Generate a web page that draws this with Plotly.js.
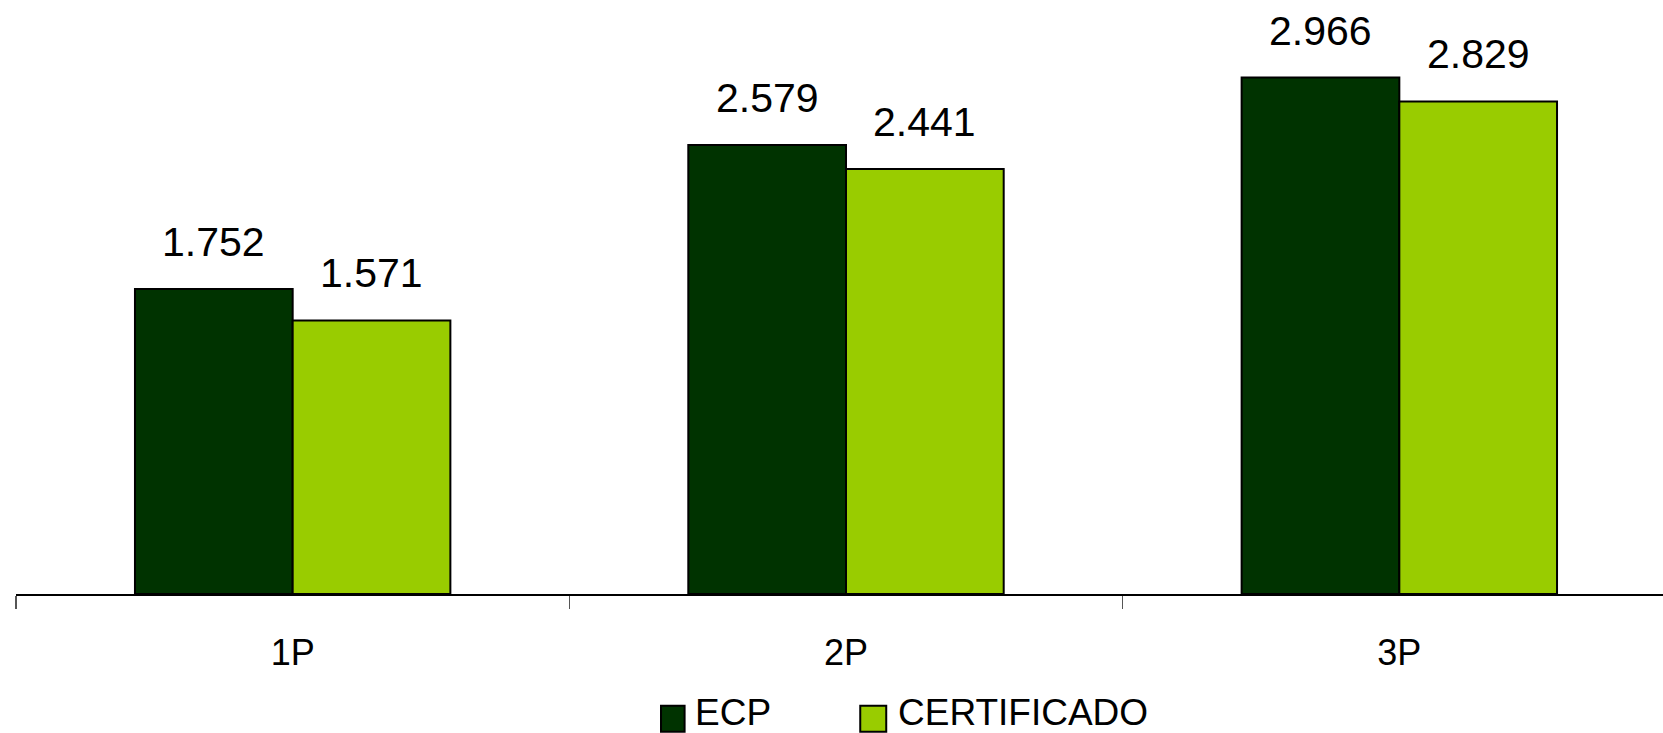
<!DOCTYPE html>
<html>
<head>
<meta charset="utf-8">
<script src="https://cdn.plot.ly/plotly-3.0.1.min.js"></script>
<style>
html,body{margin:0;padding:0;background:#fff;}
#chart{width:1663px;height:733px;}
</style>
</head>
<body>
<div id="chart"></div>
<script>
var categories = ["1P", "2P", "3P"];
var seriesNames = ["ECP", "CERTIFICADO"];
var ecpValues = [1.752, 2.579, 2.966];
var certValues = [1.571, 2.441, 2.829];
var seriesColors = ["#003300", "#99CC00"];

var W = 1663, H = 733;
var mL = 15.5, mT = 0, mB = 138.7, mR = 0;
var plotW = W - mL - mR, plotH = H - mT - mB;
function px(X){ return (X - mL) / plotW; }
function py(Y){ return (H - mB - Y) / plotH; }

var FONT = "Liberation Sans, Arial, Helvetica, sans-serif";
var bargap = 0.43;
var barW = (1 - bargap) / 2;

var allValues = [ecpValues, certValues];
var traces = allValues.map(function(vals, s){
  return {
    type: "bar",
    name: seriesNames[s],
    x: categories,
    y: vals,
    marker: {color: seriesColors[s], line: {color: "#000000", width: 2}},
    hoverinfo: "x+y",
    showlegend: false
  };
});

var annotations = [];
allValues.forEach(function(vals, s){
  vals.forEach(function(v, i){
    annotations.push({
      xref: "x", yref: "y",
      x: i + (s === 0 ? -barW/2 : barW/2),
      y: v,
      text: v.toFixed(3),
      showarrow: false,
      yanchor: "bottom",
      xanchor: "center",
      yshift: 22,
      font: {family: FONT, size: 41, color: "#000"}
    });
  });
});

// custom legend
var legendItems = [
  {sq: [660.7, 684.3], textX: 693},
  {sq: [860, 886], textX: 896}
];
var shapes = [];
legendItems.forEach(function(it, s){
  shapes.push({
    type: "rect", xref: "paper", yref: "paper",
    x0: px(it.sq[0]), x1: px(it.sq[1]),
    y0: py(706), y1: py(732),
    fillcolor: seriesColors[s],
    line: {color: "#000", width: 2}
  });
  annotations.push({
    xref: "paper", yref: "paper",
    x: px(it.textX), y: py(713),
    xanchor: "left", yanchor: "middle",
    text: seriesNames[s],
    showarrow: false,
    font: {family: FONT, size: 37, color: "#000"}
  });
});

var layout = {
  width: W, height: H,
  margin: {l: mL, r: mR, t: mT, b: mB, pad: 0},
  paper_bgcolor: "#fff",
  plot_bgcolor: "#fff",
  barmode: "group",
  bargap: bargap,
  bargroupgap: 0,
  showlegend: false,
  xaxis: {
    type: "category",
    range: [-0.5, -0.5 + plotW / 553.5],
    showline: true, linecolor: "#000", linewidth: 1.5,
    ticks: "outside", ticklen: 13, tickwidth: 1.5, tickcolor: "#555",
    tickson: "boundaries",
    showgrid: false, zeroline: false,
    tickfont: {family: FONT, size: 36, color: "#000"},
    ticklabelstandoff: 26
  },
  yaxis: {
    range: [0, plotH / 174.2],
    showgrid: false, zeroline: false, showline: false,
    showticklabels: false, ticks: ""
  },
  annotations: annotations,
  shapes: shapes
};

Plotly.newPlot("chart", traces, layout, {displayModeBar: false, staticPlot: true});
</script>
</body>
</html>
